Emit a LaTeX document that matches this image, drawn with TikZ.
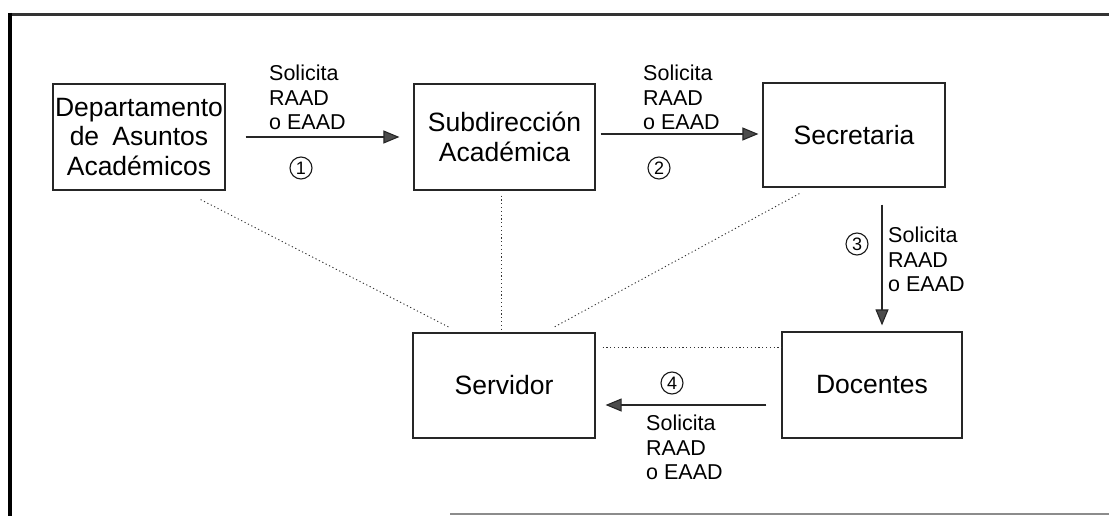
\documentclass[tikz,border=0pt]{standalone}
\usepackage{fontspec}
\setmainfont{Liberation Sans}
\usetikzlibrary{arrows.meta,calc}
\begin{document}
\begin{tikzpicture}[x=1pt,y=-1pt,
  box/.style={draw=black!85,line width=1.2pt,inner sep=0pt,align=center,
    font=\fontsize{26.5}{29.5}\selectfont},
  flow/.style={draw=black!85,line width=1.1pt,
    -{Triangle[length=16pt,width=13pt,fill=black!70]}},
  lbl/.style={anchor=north west,inner sep=0pt,align=left,
    font=\fontsize{21.5}{24.5}\selectfont},
  num/.style={circle,draw=black!90,line width=1.1pt,minimum size=22pt,
    inner sep=0pt,font=\fontsize{18}{18}\selectfont},
  link/.style={draw=black!80,line width=0.9pt,dash pattern=on 1.2pt off 2.6pt},
  frame/.style={draw=black!80}]
\useasboundingbox (0,0) rectangle (1109,516);
% frame
\draw[frame,line width=3pt] (8,14.5) -- (1109,14.5);
\draw[frame,line width=4pt,draw=black] (10,13) -- (10,516);
\draw[frame,line width=1.4pt,draw=black!45] (450,514) -- (1109,514);
% boxes
\node[box,minimum width=172pt,minimum height=106pt] (dep) at (139,137)
  {Departamento\\de\hspace{0.5em}Asuntos\\Académicos};
\node[box,minimum width=181pt,minimum height=106pt] (sub) at (504.5,137)
  {Subdirección\\Académica};
\node[box,minimum width=182pt,minimum height=104pt] (sec) at (854,135)
  {Secretaria};
\node[box,minimum width=182pt,minimum height=105pt] (serv) at (504,385.5)
  {Servidor};
\node[box,minimum width=180pt,minimum height=106pt] (doc) at (872,385)
  {Docentes};
% flow arrows
\draw[flow,shorten <=20pt,shorten >=14pt] (dep.east) -- (dep.east -| sub.west);
\draw[flow,shorten <=5pt,shorten >=4pt] ([yshift=3pt]sub.east) -- ([yshift=1pt]sec.west);
\draw[flow,shorten <=17pt,shorten >=6pt] ([xshift=28pt]sec.south) -- ([xshift=10pt]doc.north);
\draw[flow,shorten <=15pt,shorten >=10pt] ([yshift=-20pt]doc.west) -- ([yshift=-19.5pt]serv.east);
% labels
\node[lbl] (l1) at (269,65) {Solicita\\RAAD\\o EAAD};
\node[lbl] (l2) at (643,65) {Solicita\\RAAD\\o EAAD};
\node[lbl] (l3) at (888,227) {Solicita\\RAAD\\o EAAD};
\node[lbl] (l4) at (646,415) {Solicita\\RAAD\\o EAAD};
\node[num] (n1) at (301,168) {1};
\node[num] (n2) at (659,168) {2};
\node[num] (n3) at (857,244) {3};
\node[num] (n4) at (672,383) {4};
% dotted links
\draw[link] ([xshift=-25pt,yshift=-9pt]dep.south east) -- ([xshift=37pt,yshift=5pt]serv.north west);
\draw[link] ([xshift=-3.5pt,yshift=-5pt]sub.south) -- ([xshift=-3pt]serv.north);
\draw[link] ([xshift=37pt,yshift=-6pt]sec.south west) -- ([xshift=-42pt,yshift=5pt]serv.north east);
\draw[link] ([xshift=7pt,yshift=38.5pt]serv.east) -- ([yshift=38pt]doc.west);
\end{tikzpicture}
\end{document}
